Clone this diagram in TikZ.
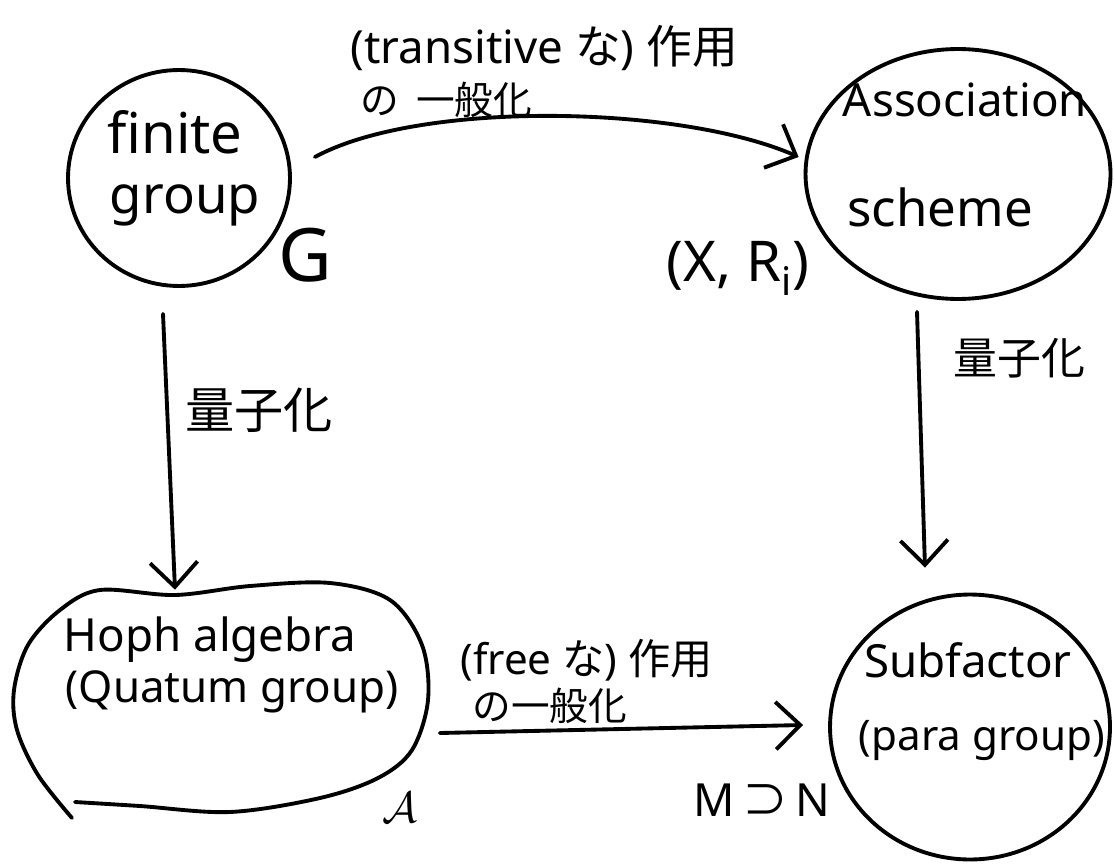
\documentclass[tikz,border=0pt]{standalone}
\usepackage{fontspec}
\setmainfont{Noto Sans}
\newfontfamily\jp{Noto Sans CJK JP}
\usetikzlibrary{shapes.geometric,arrows.meta,calc}
\tikzset{
  hand/.style={line width=2.2pt, line cap=round, line join=round},
  blob/.style={hand, draw, ellipse, inner sep=0pt, align=center},
  arr/.style={hand, -{Straight Barb[length=14pt,width=27pt,line width=2.2pt]}},
  lbl/.style={inner sep=0pt, align=left},
  word/.style={inner sep=0pt},
}
\begin{document}
\begin{tikzpicture}[x=0.02cm, y=-0.02cm]
\useasboundingbox (0,0) rectangle (1114,865);

% the four objects
\node[blob, minimum width=4.44cm, minimum height=4.32cm] (fg) at (179,178) {};
\node[word, font=\fontsize{32}{38}\selectfont] (fgt1) at (175,132) {finite};
\node[word, font=\fontsize{30}{36}\selectfont] (fgt2) at (185,205) {group};

\node[blob, minimum width=6.1cm, minimum height=5.0cm] (as) at (958,174) {};
\node[word, font=\fontsize{26}{32}\selectfont] (ast1) at (965,100) {Association};
\node[word, font=\fontsize{29}{34}\selectfont] (ast2) at (940,207) {scheme};

\node[blob, minimum width=5.6cm, minimum height=5.3cm] (sf) at (970,727) {};
\node[word, font=\fontsize{26}{32}\selectfont] (sft1) at (968,660) {Subfactor};
\node[word, font=\fontsize{24}{30}\selectfont] (sft2) at (982,740) {(para group)};

% open hand-drawn loop around the Hopf algebra
\node[minimum width=8.3cm, minimum height=4.6cm, inner sep=0pt] (hopf) at (222,700) {};
\draw[hand] plot[smooth, tension=0.55] coordinates {
  (72,818) (38,775) (17,730) (14,690) (28,645) (60,610) (100,590)
  (175,595) (250,586) (330,583) (390,600) (422,645) (428,700)
  (412,750) (378,778) (320,798) (230,812) (140,806) (75,802)};
\node[word, font=\fontsize{26}{32}\selectfont] (hpt1) at (210,640) {Hoph algebra};
\node[word, font=\fontsize{25}{30}\selectfont] (hpt2) at (232,692) {(Quatum group)};

% symbols beside the objects
\node[word, font=\fontsize{42}{46}\selectfont\mdseries] (g) at (305,255) {G};
\node[word, font=\fontsize{32}{38}\selectfont] (xr) at (738,268) {(X, R\textsubscript{i})};
\node[word, font=\fontsize{40}{44}\selectfont] (alg) at (400,808) {$\mathcal{A}$};
\node[word, font=\fontsize{26}{30}\selectfont] (mn) at (762,800) {M\,{\jp ⊃}\,N};

% connectors
\draw[arr] ($(fg.east)+(23,-21)$) .. controls (420,100) and (680,105) .. ($(as.west)+(-5,-17)$);
\draw[arr] ($(fg.south)+(-16,26)$) -- ($(hopf.north)+(-47,5)$);
\draw[arr] ($(as.south)+(-41,11)$) -- ($(sf.north)+(-45,-25)$);
\draw[arr] ($(hopf.east)+(10,33)$) -- ($(sf.west)+(-25,-2)$);

% edge labels
\node[lbl, anchor=west, font=\fontsize{26}{30}\selectfont] (tl1) at (350,48) {(transitive {\jp な}) {\jp 作用}};
\node[lbl, anchor=west, font=\fontsize{22}{26}\selectfont\jp] (tl2) at (360,100) {の\ \ 一般化};
\node[lbl, anchor=west, font=\fontsize{28}{32}\selectfont\jp] (ql) at (185,410) {量子化};
\node[lbl, anchor=west, font=\fontsize{25}{30}\selectfont\jp] (qr) at (953,358) {量子化};
\node[lbl, anchor=west, font=\fontsize{24}{28}\selectfont] (bl1) at (460,660) {(free {\jp な}) {\jp 作用}};
\node[lbl, anchor=west, font=\fontsize{22}{26}\selectfont\jp] (bl2) at (472,706) {の一般化};
\end{tikzpicture}
\end{document}
